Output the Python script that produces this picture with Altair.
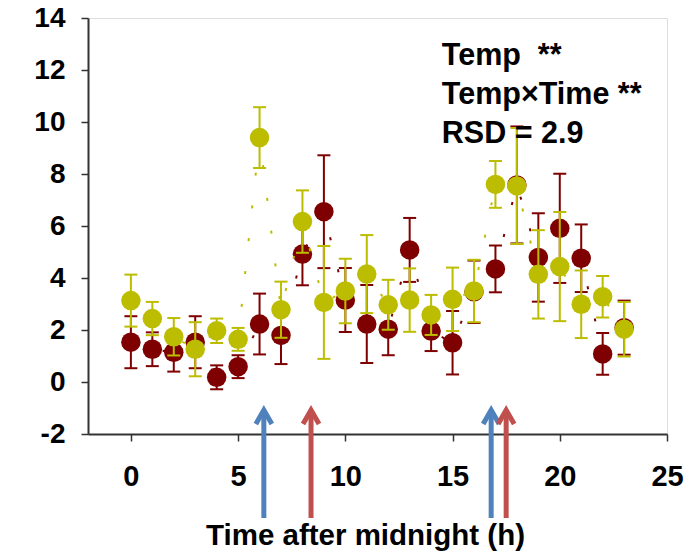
import altair as alt
import pandas as pd

# ---- data ----
hours = list(range(24))
maroon_mean = [1.53, 1.26, 1.14, 1.53, 0.18, 0.59, 2.23, 1.79, 4.92, 6.55, 3.15, 2.23,
               2.03, 5.08, 1.96, 1.51, 3.47, 4.35, 7.58, 4.79, 5.91, 4.76, 1.08, 2.09]
maroon_err = [1.0, 0.65, 0.74, 1.0, 0.46, 0.44, 1.17, 1.1, 1.2, 2.17, 1.23, 1.5,
              1.0, 1.23, 0.77, 1.22, 1.2, 0.9, 2.25, 1.7, 2.1, 1.3, 0.8, 1.04]
yellow_mean = [3.13, 2.44, 1.74, 1.26, 1.97, 1.64, 9.4, 2.78, 6.17, 3.06, 3.5, 4.15,
               2.97, 3.15, 2.58, 3.18, 3.5, 7.6, 7.54, 4.14, 4.44, 2.99, 3.28, 2.03]
yellow_err = [1.0, 0.64, 0.72, 1.04, 0.47, 0.44, 1.17, 1.08, 1.2, 2.17, 1.24, 1.5,
              0.96, 1.22, 0.77, 1.22, 1.2, 0.9, 2.23, 1.7, 2.1, 1.3, 0.8, 1.05]

arrow_hours = [6.2, 8.4, 16.8, 17.5]
arrow_kind = ["blue", "red", "blue", "red"]

annotation_lines = ["Temp\u00a0\u00a0**", "Temp\u00d7Time **", "RSD = 2.9"]

x_ticks = [0, 5, 10, 15, 20, 25]
y_ticks = [-2, 0, 2, 4, 6, 8, 10, 12, 14]

FONT = "Liberation Sans"
MAROON = "#7f0000"
YELLOW = "#bcbd00"

xs = alt.Scale(domain=[-2, 25], nice=False, zero=False)
ys = alt.Scale(domain=[-2, 14], nice=False, zero=False)

x_axis = alt.Axis(
    values=x_ticks, title="Time after midnight (h)", grid=False,
    labelFont=FONT, labelFontSize=29, labelFontWeight="bold", labelColor="black",
    labelPadding=21, labelFlush=False, labelOverlap=False,
    tickSize=7, tickWidth=1.5, tickColor="#333333",
    domainColor="#333333", domainWidth=2,
    titleFont=FONT, titleFontSize=29.5, titleFontWeight="bold", titleColor="black",
    titleX=277, titleY=110, titleBaseline="alphabetic", titleAlign="center",
)
y_axis = alt.Axis(
    values=y_ticks, title=None, grid=False,
    labelFont=FONT, labelFontSize=28, labelFontWeight="bold", labelColor="black",
    labelPadding=16, labelExpr="'' + datum.value",
    tickSize=7, tickWidth=1.5, tickColor="#333333",
    domainColor="#333333", domainWidth=2,
)


def X(field):
    return alt.X(field, type="quantitative", scale=xs, axis=x_axis)


def Y(field):
    return alt.Y(field, type="quantitative", scale=ys, axis=y_axis)


def series_layers(mean, err, color):
    df = pd.DataFrame({"hour": hours, "mean": mean, "err": err})
    df["lo"] = df["mean"] - df["err"]
    df["hi"] = df["mean"] + df["err"]
    base = alt.Chart(df)
    line = base.mark_line(color=color, strokeWidth=2, strokeDash=[3, 30]).encode(
        x=X("hour"), y=Y("mean"))
    bars = base.mark_rule(color=color, strokeWidth=2).encode(
        x=X("hour"), y=Y("lo"), y2="hi")
    cap_lo = base.mark_tick(color=color, orient="horizontal", size=13, thickness=2,
                            opacity=1).encode(x=X("hour"), y=Y("lo"))
    cap_hi = base.mark_tick(color=color, orient="horizontal", size=13, thickness=2,
                            opacity=1).encode(x=X("hour"), y=Y("hi"))
    pts = base.mark_circle(color=color, size=380, opacity=1).encode(
        x=X("hour"), y=Y("mean"))
    return [line, bars, cap_lo, cap_hi, pts]


arrows_df = pd.DataFrame({"hour": arrow_hours, "kind": arrow_kind})
arrow_color = alt.Color("kind:N", scale=alt.Scale(domain=["blue", "red"],
                                                   range=["#4f81bd", "#c0504d"]),
                        legend=None)
arrow_shaft = alt.Chart(arrows_df).mark_rule(strokeWidth=5).encode(
    x=X("hour"),
    y=alt.YDatum(-1.1, scale=ys, axis=y_axis),
    y2=alt.datum(-5.23),
    color=arrow_color,
)
arrow_head = alt.Chart(arrows_df).mark_point(
    shape="M -0.8 0.7 L 0 -0.7 L 0.8 0.7", size=400, filled=False,
    strokeWidth=5, strokeJoin="miter", strokeCap="butt", opacity=1,
).encode(
    x=X("hour"),
    y=alt.YDatum(-1.35, scale=ys, axis=y_axis),
    color=arrow_color,
)

annot = alt.Chart(pd.DataFrame({"k": [0]})).mark_text(
    text=annotation_lines, align="left", baseline="alphabetic", lineHeight=39,
    font=FONT, fontSize=30.5, fontWeight="bold", color="black",
).encode(
    x=alt.XDatum(14.5, scale=xs, axis=x_axis),
    y=alt.YDatum(12.2, scale=ys, axis=y_axis),
)

layers = (series_layers(maroon_mean, maroon_err, MAROON)
          + series_layers(yellow_mean, yellow_err, YELLOW)
          + [arrow_shaft, arrow_head, annot])

chart = alt.layer(*layers).properties(
    width=579, height=416,
    autosize=alt.AutoSizeParams(type="none"),
    padding={"left": 88, "top": 18, "right": 25, "bottom": 123},
).configure_view(stroke="#333333", strokeWidth=2).configure(background="white")

chart.save("out.html", embed_options={"renderer": "svg", "actions": False})
